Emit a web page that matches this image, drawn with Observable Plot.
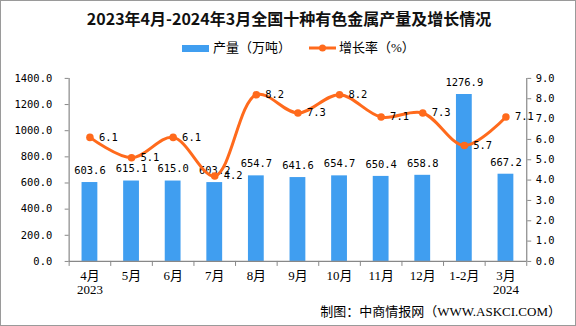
<!DOCTYPE html>
<html>
<head>
<meta charset="utf-8">
<script src="https://cdn.jsdelivr.net/npm/d3@7"></script>
<script src="https://cdn.jsdelivr.net/npm/@observablehq/plot@0.6"></script>
<style>
  html, body { margin: 0; padding: 0; background: #fff; }
  #wrap { position: relative; width: 576px; height: 326px; box-sizing: border-box; border: 1px solid #9a9a9a; overflow: hidden; font-family: "Liberation Serif", "Noto Sans CJK SC", sans-serif; color: #000; }
  #title { position: absolute; left: 0; top: 7px; width: 576px; text-align: center; font: bold 16px "Noto Sans CJK SC", sans-serif; line-height: 20px; color: #111; }
  #legend { position: absolute; left: 0; top: 39px; width: 576px; height: 16px; font-size: 13px; line-height: 16px; }
  .lg { position: absolute; top: 0; display: flex; align-items: center; height: 16px; }
  #chart { position: absolute; left: -1px; top: 59px; }
  #footer { position: absolute; right: 14px; top: 303px; font-size: 13px; line-height: 16px; }
</style>
</head>
<body>
<div id="wrap">
  <div id="title">2023年4月-2024年3月全国十种有色金属产量及增长情况</div>
  <div id="legend">
    <div class="lg" style="left:181px"><span style="display:inline-block;width:27px;height:7px;background:#409ef0;margin-right:4px"></span><span>产量（万吨）</span></div>
    <div class="lg" style="left:308px"><svg width="27" height="10" style="margin-right:3px"><line x1="0" y1="5" x2="27" y2="5" stroke="#ff6a1c" stroke-width="3"/><circle cx="13.5" cy="5" r="3.5" fill="#ff6a1c"/></svg><span>增长率（%）</span></div>
  </div>
  <div id="chart"></div>
  <div id="footer">制图：中商情报网（WWW.ASKCI.COM）</div>
</div>
<script>
const months = ["4月","5月","6月","7月","8月","9月","10月","11月","12月","1-2月","3月"];
const years = ["2023","","","","","","","","","","2024"];
const output = [603.6, 615.1, 615.0, 603.2, 654.7, 641.6, 654.7, 650.4, 658.8, 1276.9, 667.2];
const growth = [6.1, 5.1, 6.1, 4.2, 8.2, 7.3, 8.2, 7.1, 7.3, 5.7, 7.1];
const leftTicks = [0, 200, 400, 600, 800, 1000, 1200, 1400];
const rightTicks = [0, 1, 2, 3, 4, 5, 6, 7, 8, 9];

const leftMax = 1400, rightMax = 9;
const k = leftMax / rightMax;
const blue = "#409ef0", orange = "#ff6a1c", gray = "#888";
const numFont = '"DejaVu Sans Mono", monospace';

const data = months.map((m, i) => ({
  i, label: years[i] ? m + "\n" + years[i] : m,
  output: output[i], growth: growth[i], g: growth[i] * k
}));
const bounds = d3.range(months.length + 1).map(j => j - 0.5);

const chart = Plot.plot({
  width: 578, height: 246,
  marginTop: 18, marginBottom: 44, marginLeft: 69, marginRight: 49,
  x: {type: "linear", domain: [-0.5, months.length - 0.5], axis: null, label: null},
  y: {domain: [0, leftMax], axis: null, label: null},
  style: {fontFamily: '"Liberation Serif", "Noto Sans CJK SC", sans-serif', fontSize: "12px", color: "#000", background: "transparent"},
  marks: [
    Plot.rect(data, {x1: d => d.i - 0.19, x2: d => d.i + 0.19, y1: 0, y2: "output", fill: blue}),
    Plot.ruleY([0], {stroke: gray, strokeWidth: 1.2}),
    Plot.ruleX([bounds[0], bounds[bounds.length - 1]], {stroke: gray, strokeWidth: 1.2}),
    Plot.axisY(leftTicks, {anchor: "left", label: null, tickSize: 4, tickPadding: 13, stroke: gray, fill: "#000", tickFormat: d => d.toFixed(1), fontSize: 10.5, fontFamily: numFont}),
    Plot.axisY(rightTicks.map(v => v * k), {anchor: "right", label: null, tickSize: 4, tickPadding: 5, stroke: gray, fill: "#000", tickFormat: d => (d / k).toFixed(1), fontSize: 10.5, fontFamily: numFont}),
    Plot.axisX(bounds, {anchor: "bottom", label: null, tickSize: 5, stroke: gray, tickFormat: () => ""}),
    Plot.text(data, {x: "i", y: 0, text: "label", lineAnchor: "top", dy: 9, lineHeight: 1.05, fontSize: 13, fill: "#000"}),
    Plot.text(data, {x: "i", y: "output", text: d => d.output.toFixed(1), dy: -12, fontSize: 10.5, fontFamily: numFont, fill: "#000"}),
    Plot.line(data, {x: "i", y: "g", curve: "catmull-rom", stroke: orange, strokeWidth: 3}),
    Plot.dot(data, {x: "i", y: "g", r: 3.8, fill: orange}),
    Plot.text(data, {x: "i", y: "g", text: d => d.growth.toFixed(1), textAnchor: "start", dx: 9, fontSize: 10.5, fontFamily: numFont, fill: "#000"})
  ]
});
document.getElementById("chart").appendChild(chart);
</script>
</body>
</html>
